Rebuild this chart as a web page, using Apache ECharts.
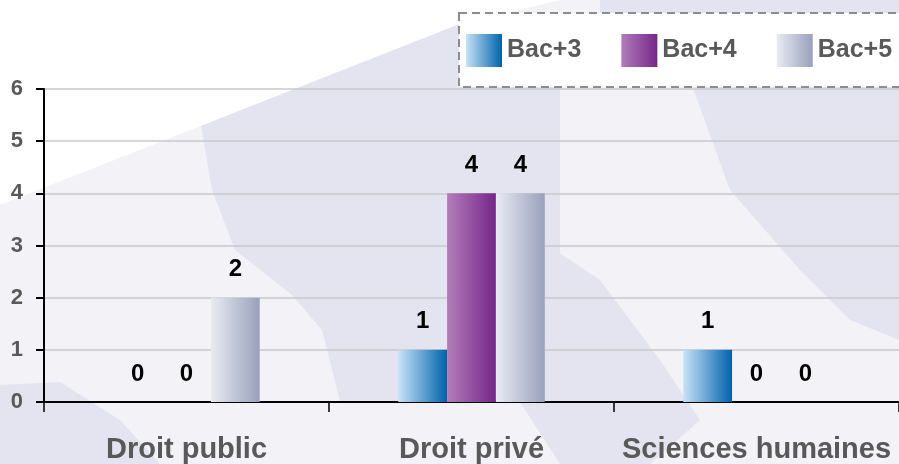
<!DOCTYPE html>
<html>
<head>
<meta charset="utf-8">
<script src="https://cdn.jsdelivr.net/npm/echarts@6/dist/echarts.min.js"></script>
<style>html,body{margin:0;padding:0;background:#f3f3f7}#c{width:899px;height:464px}</style>
</head>
<body>
<div id="c"></div>
<script>
const categories = ['Droit public', 'Droit privé', 'Sciences humaines'];
const seriesNames = ['Bac+3', 'Bac+4', 'Bac+5'];
const bac3 = [0, 1, 1];
const bac4 = [0, 4, 0];
const bac5 = [2, 4, 0];
const yTicks = [0, 1, 2, 3, 4, 5, 6];

const grad = (a, b) => new echarts.graphic.LinearGradient(0, 0, 1, 0, [
  {offset: 0, color: a}, {offset: 1, color: b}
]);
const colors = [grad('#c8e2f6', '#0063ab'), grad('#b27dba', '#76268a'), grad('#e9ebf3', '#98a0bb')];
const lav = '#e3e4ef';

const chart = echarts.init(document.getElementById('c'), null, {renderer: 'canvas'});
const labelStyle = {show: true, position: 'top', distance: 16, color: '#000', fontWeight: 'bold', fontSize: 24, fontFamily: 'Liberation Sans, Arial, sans-serif'};
const values = [bac3, bac4, bac5];

chart.setOption({
  backgroundColor: '#f3f3f7',
  animation: false,
  textStyle: {fontFamily: 'Liberation Sans, Arial, sans-serif'},
  graphic: [
    {type: 'polygon', z: -10, silent: true, shape: {points: [[190,60],[470,20],[560,40],[560,402],[340,402],[322,330],[292,295],[235,250],[212,190]]}, style: {fill: lav}},
    {type: 'polygon', z: -10, silent: true, shape: {points: [[690,80],[899,80],[899,340],[850,320],[800,270],[730,190]]}, style: {fill: lav}},
    {type: 'polygon', z: -10, silent: true, shape: {points: [[540,240],[600,280],[660,360],[700,420],[650,464],[560,464],[520,402]]}, style: {fill: lav}},
    {type: 'polygon', z: -10, silent: true, shape: {points: [[0,385],[60,382],[120,420],[160,464],[0,464]]}, style: {fill: lav}},
    {type: 'polygon', z: -10, silent: true, shape: {points: [[600,0],[899,0],[899,14],[600,14]]}, style: {fill: lav}},
    {type: 'polygon', z: -9, silent: true, shape: {points: [[0,0],[560,0],[457,25],[0,205]]}, style: {fill: '#ffffff'}},
    {type: 'rect', z: -5, silent: true, shape: {x: 459, y: 13, width: 450, height: 74}, style: {fill: '#ffffff', stroke: '#8c8c8c', lineWidth: 2, lineDash: [8, 5]}}
  ],
  legend: {
    data: seriesNames,
    left: 461, top: 29, padding: 5,
    itemWidth: 36, itemHeight: 33, itemGap: 40,
    textStyle: {fontSize: 25, fontWeight: 'bold', color: '#595959'},
    icon: 'rect'
  },
  grid: {left: 44, top: 89, width: 858, height: 313, containLabel: false},
  xAxis: {
    type: 'category', data: categories,
    axisLine: {lineStyle: {color: '#000', width: 2}},
    axisTick: {show: true, length: 10, lineStyle: {color: '#000', width: 1.5}, alignWithLabel: false},
    axisLabel: {margin: 33, fontSize: 29, fontWeight: 'bold', color: '#595959', interval: 0},
    splitLine: {show: false}
  },
  yAxis: {
    type: 'value', min: yTicks[0], max: yTicks[yTicks.length - 1], interval: 1,
    axisLine: {show: true, lineStyle: {color: '#000', width: 2}},
    axisTick: {show: true, length: 8, lineStyle: {color: '#000', width: 2}},
    axisLabel: {margin: 21, fontSize: 22, fontWeight: 'bold', color: '#595959'},
    splitLine: {lineStyle: {color: '#c8c8cc', width: 1.5}}
  },
  series: seriesNames.map((n, i) => ({
    name: n, type: 'bar', data: values[i],
    barGap: '0%', barCategoryGap: '48.6%',
    itemStyle: {color: colors[i]},
    label: labelStyle
  }))
});
</script>
</body>
</html>
